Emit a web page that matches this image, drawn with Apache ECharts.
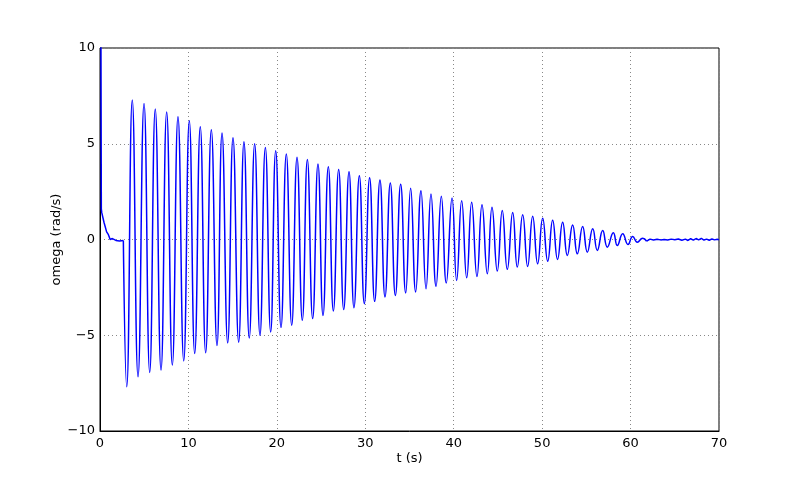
<!DOCTYPE html>
<html>
<head>
<meta charset="utf-8">
<script src="https://cdn.jsdelivr.net/npm/echarts@6/dist/echarts.min.js"></script>
<style>html,body{margin:0;padding:0;background:#fff}#c{width:800px;height:480px}</style>
</head>
<body>
<div id="c"></div>
<script>
// start transient (t, omega)
var startT = [0, 0.1, 0.15, 0.2, 0.45, 0.75, 0.95, 1.15, 1.4, 1.8, 2.2, 2.64];
var startV = [25, 12, 1.6, 1.4, 0.9, 0.4, 0.25, 0.0, 0.05, -0.05, -0.08, -0.05];
// oscillation peaks
var peakT = [3.65,4.98,6.25,7.54,8.82,10.10,11.34,12.59,13.80,15.04,16.28,17.49,18.70,19.87,21.07,22.28,23.45,24.65,25.82,26.99,28.16,29.33,30.49,31.66,32.83,34.00,35.13,36.30,37.43,38.60,39.81,40.90,42.03,43.20,44.33,45.49,46.67,47.80,48.93,50.06,51.19,52.32,53.45,54.58,55.72,56.85,58.05,59.11,60.24,61.37];
var peakV = [7.28,7.10,6.81,6.66,6.41,6.20,5.89,5.73,5.56,5.31,5.10,5.00,4.81,4.64,4.46,4.29,4.18,3.94,3.80,3.66,3.54,3.33,3.23,3.11,2.95,2.88,2.67,2.55,2.38,2.26,2.17,2.03,1.94,1.81,1.68,1.51,1.41,1.29,1.21,1.11,1.01,0.90,0.76,0.68,0.56,0.47,0.35,0.30,0.16,0.07];
// oscillation troughs
var troughT = [3.02,4.30,5.62,6.90,8.18,9.47,10.71,11.95,13.23,14.44,15.68,16.88,18.09,19.30,20.47,21.68,22.88,24.05,25.22,26.39,27.56,28.72,29.89,31.06,32.23,33.40,34.57,35.70,36.87,38.00,39.16,40.33,41.47,42.63,43.80,44.93,46.06,47.19,48.36,49.49,50.63,51.74,52.85,53.98,55.11,56.24,57.37,58.50,59.71,60.76,61.82];
var troughV = [-7.69,-7.17,-6.94,-6.82,-6.56,-6.34,-5.95,-5.92,-5.54,-5.40,-5.36,-5.14,-5.00,-4.83,-4.60,-4.48,-4.22,-4.13,-3.97,-3.73,-3.66,-3.56,-3.35,-3.23,-3.00,-2.92,-2.79,-2.74,-2.57,-2.45,-2.27,-2.14,-2.00,-1.93,-1.79,-1.65,-1.56,-1.44,-1.41,-1.27,-1.13,-1.04,-0.83,-0.75,-0.66,-0.57,-0.40,-0.31,-0.26,-0.14,-0.09];
// settled tail noise
var tailT = [61.82,62.2,62.6,63.0,63.4,63.8,64.2,64.6,65.0,65.4,65.8,66.2,66.5,66.8,67.1,67.4,67.7,68.0,68.3,68.6,68.9,69.2,69.5,69.8,70.0];
var tailV = [-0.09,0.02,-0.03,0.01,-0.02,0.0,-0.03,0.02,-0.01,0.03,-0.04,0.02,-0.05,0.04,-0.03,0.05,-0.02,0.06,-0.03,0.02,-0.04,0.03,-0.02,0.01,-0.01];
var xTicks = [0,10,20,30,40,50,60,70];
var yTicks = [-10,-5,0,5,10];

function pairs(t, v){ return t.map(function(x,i){ return [x, v[i]]; }); }
var osc = [[startT[startT.length-1], startV[startV.length-1]]]
  .concat(pairs(peakT, peakV), pairs(troughT, troughV))
  .sort(function(a,b){ return a[0]-b[0]; });

function fmt(v){ return v < 0 ? '\u2212' + Math.abs(v) : String(v); }
var lineColor = '#0000ff';
var grid = {show:true, lineStyle:{color:'#888', type:[1,3], width:1}};
var chart = echarts.init(document.getElementById('c'));
chart.setOption({
  animation:false,
  backgroundColor:'#fff',
  textStyle:{fontFamily:'DejaVu Sans'},
  grid:{left:100, right:81, top:48, bottom:49, show:true, borderColor:'#000', borderWidth:1, backgroundColor:'transparent'},
  xAxis:{type:'value', min:xTicks[0], max:xTicks[xTicks.length-1], interval:10,
    name:'t (s)', nameLocation:'middle', nameGap:21, nameMoveOverlap:false,
    nameTextStyle:{fontSize:13, color:'#000', fontFamily:'DejaVu Sans'},
    axisLine:{show:true, onZero:false, lineStyle:{color:'#000', width:1}},
    axisTick:{show:false}, axisLabel:{color:'#000', fontSize:13, margin:6, formatter:fmt},
    splitLine:grid},
  yAxis:{type:'value', min:yTicks[0], max:yTicks[yTicks.length-1], interval:5,
    name:'omega (rad/s)', nameLocation:'middle', nameGap:37, nameMoveOverlap:false,
    nameTextStyle:{fontSize:13, color:'#000', fontFamily:'DejaVu Sans'},
    axisLine:{show:true, onZero:false, lineStyle:{color:'#000', width:1}},
    axisTick:{show:false}, axisLabel:{color:'#000', fontSize:13, margin:5, formatter:fmt},
    splitLine:grid},
  series:[
    {type:'line', data:pairs(startT,startV), showSymbol:false, smooth:false, clip:true, lineStyle:{color:lineColor, width:1.5}},
    {type:'line', data:osc, showSymbol:false, smooth:0.5, clip:true, lineStyle:{color:lineColor, width:1.5}},
    {type:'line', data:pairs(tailT,tailV), showSymbol:false, smooth:false, clip:true, lineStyle:{color:lineColor, width:1.5}}
  ]
});
</script>
</body>
</html>
